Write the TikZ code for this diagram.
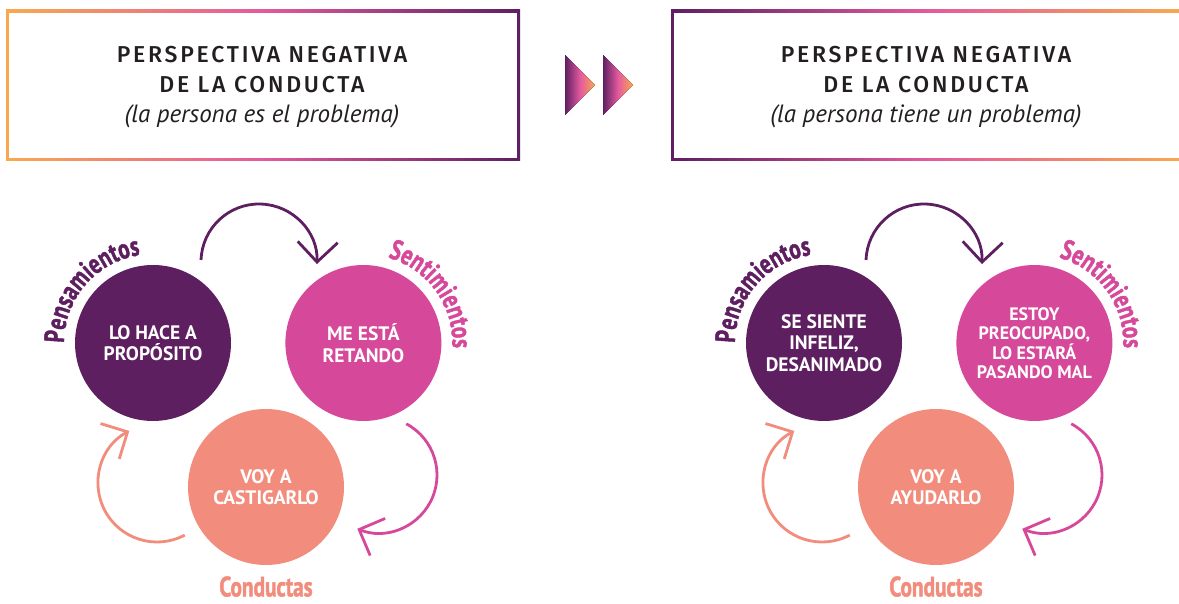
\documentclass[tikz,border=0pt]{standalone}
\usepackage{fontspec}
\setmainfont{PT Sans}
\newfontfamily\titlefont[LetterSpace=12]{Fira Sans Medium}
\newfontfamily\labelfont[FakeStretch=0.76,FakeBold=1.5]{PT Sans}
\usetikzlibrary{arrows.meta,decorations.text,positioning}

\definecolor{cPurple}{HTML}{5E1F61}
\definecolor{cPink}{HTML}{D6499A}
\definecolor{cSalmon}{HTML}{F28C7C}
\definecolor{gOrange}{HTML}{F9A94D}
\definecolor{gPink}{HTML}{E35A9E}
\definecolor{cText}{HTML}{231F20}

\tikzset{
  bubble/.style={circle, minimum size=156pt, inner sep=0pt, text=white, align=center,
    font=\bfseries\fontsize{19.5}{21.5}\selectfont},
  cyc/.style={line width=2.8pt, -{Straight Barb[length=20pt,width=40pt]}},
  heading/.style={align=center, text=cText, font=\titlefont\fontsize{23}{30}\selectfont},
  tag/.style={inner sep=0pt, font=\labelfont\bfseries\fontsize{28}{28}\selectfont},
}

\begin{document}
\begin{tikzpicture}[x=1pt,y=1pt]
  \useasboundingbox (0,0) rectangle (1179,603);

  % title frames
  \fill[left color=gOrange, right color=cPurple, middle color=gPink] (6,442) rectangle (520,593);
  \fill[white] (9,445) rectangle (517,590);
  \fill[left color=cPurple, right color=gOrange, middle color=gPink] (671,442) rectangle (1185,593);
  \fill[white] (674,445) rectangle (1182,590);
  \node[heading] (ltitle) at (262,516) {PERSPECTIVA NEGATIVA\\ \titlefont DE LA CONDUCTA\\
    \normalfont\itshape\fontsize{25}{31}\selectfont (la persona es el problema)};
  \node[heading] (rtitle) at (926,516) {PERSPECTIVA NEGATIVA\\ \titlefont DE LA CONDUCTA\\
    \normalfont\itshape\fontsize{25}{31}\selectfont (la persona tiene un problema)};

  % double triangle
  \fill[left color=cPurple, right color=gOrange, middle color=gPink] (565,548) -- (595,518) -- (565,488) -- cycle;
  \fill[left color=cPurple, right color=gOrange, middle color=gPink] (603,548) -- (633,518) -- (603,488) -- cycle;

  % left cycle
  \node[bubble, fill=cPurple] (lthink) at (153,260) {LO HACE A\\PROP\'OSITO};
  \node[bubble, fill=cPink]   (lfeel) [right=54pt of lthink] {ME EST\'A\\RETANDO};
  \node[bubble, fill=cSalmon] (lact)  at (266,116) {VOY A\\CASTIGARLO};
  \node[tag, text=cSalmon] (lactlabel) [below=11pt of lact] {Conductas};
  \path[decorate, decoration={text along path, text color=cPurple,
    text={|\labelfont\bfseries\fontsize{28}{28}\selectfont|Pensamientos}}]
    ([shift={(180:89)}]lthink.center) arc (180:60:89);
  \path[decorate, decoration={text along path, text color=cPink,
    text={|\labelfont\bfseries\fontsize{28}{28}\selectfont|Sentimientos}}]
    ([shift={(74:89)}]lfeel.center) arc (74:-45:89);

  \coordinate (ltop) at (259,341);
  \coordinate (lright) at (379,128);
  \coordinate (lleft) at (157,120);
  \draw[cyc, cPurple] ([shift={(178:58)}]ltop) arc (178:-2:58);
  \draw[cyc, cPink] ([shift={(62:58)}]lright) arc (62:-112:58);
  \draw[cyc, cSalmon] ([shift={(-62:59)}]lleft) arc (-62:-242:59);

  % right cycle
  \node[bubble, fill=cPurple] (rthink) at (824,260) {SE SIENTE\\INFELIZ,\\DESANIMADO};
  \node[bubble, fill=cPink, font=\bfseries\fontsize{18}{19.5}\selectfont] (rfeel) [right=54pt of rthink]
    {ESTOY\\PREOCUPADO,\\LO ESTAR\'A\\PASANDO MAL};
  \node[bubble, fill=cSalmon] (ract)  at (936,116) {VOY A\\AYUDARLO};
  \node[tag, text=cSalmon] (ractlabel) [below=11pt of ract] {Conductas};
  \path[decorate, decoration={text along path, text color=cPurple,
    text={|\labelfont\bfseries\fontsize{28}{28}\selectfont|Pensamientos}}]
    ([shift={(180:89)}]rthink.center) arc (180:60:89);
  \path[decorate, decoration={text along path, text color=cPink,
    text={|\labelfont\bfseries\fontsize{28}{28}\selectfont|Sentimientos}}]
    ([shift={(74:89)}]rfeel.center) arc (74:-45:89);

  \coordinate (rtop) at (924,341);
  \coordinate (rright) at (1044,128);
  \coordinate (rleft) at (822,120);
  \draw[cyc, cPurple] ([shift={(178:58)}]rtop) arc (178:-2:58);
  \draw[cyc, cPink] ([shift={(62:58)}]rright) arc (62:-112:58);
  \draw[cyc, cSalmon] ([shift={(-62:59)}]rleft) arc (-62:-242:59);
\end{tikzpicture}
\end{document}
